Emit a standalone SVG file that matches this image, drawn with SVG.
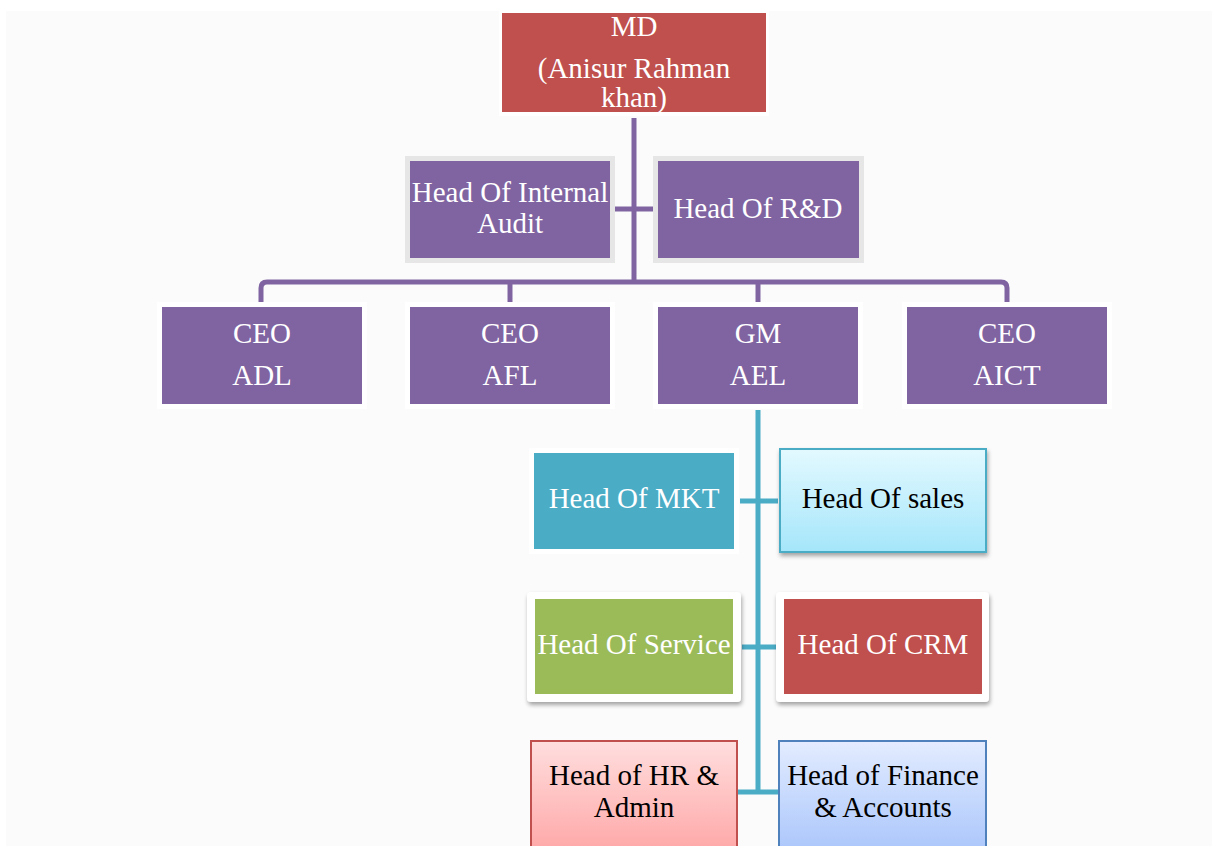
<svg xmlns="http://www.w3.org/2000/svg" width="1212" height="846" viewBox="0 0 1212 846">
<style>
text{font-family:"Liberation Serif","Times New Roman",serif;font-size:29px;text-anchor:middle}
.w{fill:#ffffff}
.k{fill:#000000}
.purple{fill:#8064a2}
.halo{fill:#ffffff}
.gray{fill:#e6e6e6}
.pl{stroke:#8064a2;stroke-width:5;fill:none;stroke-linejoin:round}
.tl{stroke:#4bacc6;stroke-width:5;fill:none}
</style>
<defs>
<linearGradient id="gCyan" x1="0" y1="0" x2="0" y2="1"><stop offset="0" stop-color="#e3f9ff"/><stop offset="1" stop-color="#a5e6fa"/></linearGradient>
<linearGradient id="gPink" x1="0" y1="0" x2="0" y2="1"><stop offset="0" stop-color="#ffdede"/><stop offset="1" stop-color="#ffa3a3"/></linearGradient>
<linearGradient id="gBlue" x1="0" y1="0" x2="0" y2="1"><stop offset="0" stop-color="#e3ecff"/><stop offset="1" stop-color="#a6c3fb"/></linearGradient>
<filter id="sh" x="-10%" y="-10%" width="125%" height="130%"><feDropShadow dx="1" dy="3" stdDeviation="2" flood-color="#000" flood-opacity="0.35"/></filter>
</defs>
<rect x="0" y="0" width="1212" height="846" fill="#ffffff"/>
<rect x="6" y="11" width="1206" height="835" fill="#fbfbfb"/>

<g id="connectors">
<path class="pl" d="M634,118 V282"/>
<path class="pl" d="M615,209 H653"/>
<path class="pl" d="M261,302 V288 Q261,282 267,282 H1001 Q1007,282 1007,288 V302"/>
<path class="pl" d="M510,282 V302"/>
<path class="pl" d="M758,282 V302"/>
<path class="tl" d="M758,410 V794"/>
<path class="tl" d="M740,501 H778"/>
<path class="tl" d="M742,647 H777"/>
<path class="tl" d="M738,792 H779"/>
</g>

<g id="md">
<rect x="499" y="10" width="270" height="106" class="halo"/>
<rect x="502" y="13" width="264" height="99" fill="#c0504d"/>
<text x="634" y="36" class="w">MD</text>
<text x="634" y="78" class="w">(Anisur Rahman</text>
<text x="634" y="107" class="w">khan)</text>
</g>

<g id="internal-audit">
<rect x="405" y="156" width="210" height="107" class="gray"/>
<rect x="410" y="161" width="200" height="97" class="purple"/>
<text x="510" y="202" class="w">Head Of Internal</text>
<text x="510" y="233" class="w">Audit</text>
</g>

<g id="rnd">
<rect x="653" y="156" width="211" height="107" class="gray"/>
<rect x="658" y="161" width="201" height="97" class="purple"/>
<text x="758" y="218" class="w">Head Of R&amp;D</text>
</g>

<g id="ceo-adl">
<rect x="157" y="302" width="210" height="107" class="halo"/>
<rect x="162" y="307" width="200" height="97" class="purple"/>
<text x="262" y="343" class="w">CEO</text>
<text x="262" y="385" class="w">ADL</text>
</g>

<g id="ceo-afl">
<rect x="405" y="302" width="210" height="107" class="halo"/>
<rect x="410" y="307" width="200" height="97" class="purple"/>
<text x="510" y="343" class="w">CEO</text>
<text x="510" y="385" class="w">AFL</text>
</g>

<g id="gm-ael">
<rect x="653" y="302" width="210" height="107" class="halo"/>
<rect x="658" y="307" width="200" height="97" class="purple"/>
<text x="758" y="343" class="w">GM</text>
<text x="758" y="385" class="w">AEL</text>
</g>

<g id="ceo-aict">
<rect x="902" y="302" width="210" height="107" class="halo"/>
<rect x="907" y="307" width="200" height="97" class="purple"/>
<text x="1007" y="343" class="w">CEO</text>
<text x="1007" y="385" class="w">AICT</text>
</g>

<g id="mkt">
<rect x="529" y="448" width="210" height="106" class="halo"/>
<rect x="534" y="453" width="200" height="96" fill="#4bacc6"/>
<text x="634" y="508" class="w">Head Of MKT</text>
</g>

<g id="sales">
<rect x="780" y="449" width="206" height="103" fill="url(#gCyan)" stroke="#4bacc6" stroke-width="2" filter="url(#sh)"/>
<text x="883" y="508" class="k">Head Of sales</text>
</g>

<g id="service">
<rect x="527" y="592" width="214" height="110" rx="4" class="halo" filter="url(#sh)"/>
<rect x="535" y="599" width="198" height="95" fill="#9bbb59"/>
<text x="634" y="654" class="w">Head Of Service</text>
</g>

<g id="crm">
<rect x="776" y="592" width="213" height="110" rx="4" class="halo" filter="url(#sh)"/>
<rect x="784" y="599" width="198" height="95" fill="#c0504d"/>
<text x="883" y="654" class="w">Head Of CRM</text>
</g>

<g id="hr">
<rect x="531" y="741" width="206" height="120" fill="url(#gPink)" stroke="#c0504d" stroke-width="2"/>
<text x="634" y="785" class="k">Head of HR &amp;</text>
<text x="634" y="817" class="k">Admin</text>
</g>

<g id="finance">
<rect x="779" y="741" width="207" height="120" fill="url(#gBlue)" stroke="#4f81bd" stroke-width="2"/>
<text x="883" y="785" class="k">Head of Finance</text>
<text x="883" y="817" class="k">&amp; Accounts</text>
</g>
</svg>
